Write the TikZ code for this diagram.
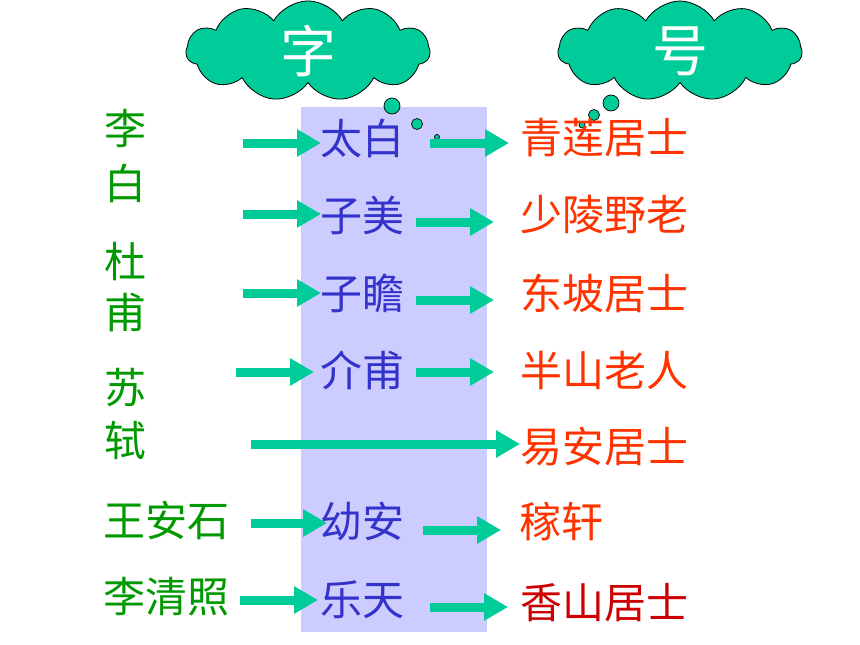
\documentclass[tikz,border=0pt]{standalone}
\usepackage{fontspec}
\newfontfamily\cjk{Noto Sans CJK SC}
\usetikzlibrary{shapes.symbols,arrows.meta}
\definecolor{cloudgreen}{RGB}{0,204,153}
\definecolor{namegreen}{RGB}{0,153,0}
\definecolor{zicolor}{RGB}{51,51,204}
\definecolor{haored}{RGB}{255,51,0}
\definecolor{darkred}{RGB}{204,0,0}
\definecolor{bandblue}{RGB}{204,204,255}
\tikzset{
  thought/.style={cloud, cloud puffs=11, cloud puff arc=120, aspect=2.5, draw=black, line width=0.8pt, fill=cloudgreen, inner sep=0pt, minimum width=244pt, minimum height=100pt, text=white, font=\cjk\fontsize{56pt}{56pt}\selectfont},
  bubble/.style={circle, draw=black, line width=0.7pt, fill=cloudgreen, inner sep=0pt},
  person/.style={text=namegreen, font=\cjk\fontsize{42pt}{42pt}\selectfont, inner sep=0pt},
  zi/.style={text=zicolor, font=\cjk\fontsize{42pt}{42pt}\selectfont, inner sep=0pt},
  hao/.style={text=haored, font=\cjk\fontsize{42pt}{42pt}\selectfont, inner sep=0pt},
  link/.style={draw=cloudgreen, line width=9pt, -{Triangle[length=24pt,width=26pt,fill=cloudgreen]}},
}
\begin{document}
\begin{tikzpicture}[x=1pt,y=-1pt]
\useasboundingbox (0,0) rectangle (860,645);
% band
\fill[bandblue] (301,107) rectangle (487,632);
% clouds
\node[thought] (cz) at (308,51) {字};
\node[thought] (ch) at (680,51) {号};
\node[bubble, minimum size=16pt] (b1) at (392,106) {};
\node[bubble, minimum size=11pt] (b2) at (417,124) {};
\node[bubble, minimum size=5pt] (b3) at (437,137) {};
\node[bubble, minimum size=16pt] (b4) at (611,103) {};
\node[bubble, minimum size=11pt] (b5) at (594,115) {};
\node[bubble, minimum size=6pt] (b6) at (582,125) {};
% people
\node[person] (p1) at (125,128) {李};
\node[person] (p2) at (125,183) {白};
\node[person] (p3) at (125,262) {杜};
\node[person] (p4) at (125,312) {甫};
\node[person] (p5) at (125,388) {苏};
\node[person] (p6) at (125,440) {轼};
\node[person] (p7) at (166,520) {王安石};
\node[person] (p8) at (166,597) {李清照};
% zi
\node[zi] (z1) at (362,138) {太白};
\node[zi] (z2) at (362,215) {子美};
\node[zi] (z3) at (362,293) {子瞻};
\node[zi] (z4) at (362,370) {介甫};
\node[zi] (z6) at (362,522) {幼安};
\node[zi] (z7) at (362,600) {乐天};
% hao
\node[hao] (h1) at (604,138) {青莲居士};
\node[hao] (h2) at (604,215) {少陵野老};
\node[hao] (h3) at (604,293) {东坡居士};
\node[hao] (h4) at (604,370) {半山老人};
\node[hao] (h5) at (604,447) {易安居士};
\node[hao, anchor=west] (h6) at (519,522) {稼轩};
\node[hao, text=darkred] (h7) at (604,603) {香山居士};
% arrow anchor points
\coordinate (l1s) at (243,143); \coordinate (l1e) at (321,143);
\coordinate (l2s) at (243,214); \coordinate (l2e) at (321,214);
\coordinate (l3s) at (243,293); \coordinate (l3e) at (321,293);
\coordinate (l4s) at (236,372); \coordinate (l4e) at (314,372);
\coordinate (l5s) at (251,444); \coordinate (l5e) at (520,444);
\coordinate (l6s) at (251,523); \coordinate (l6e) at (327,523);
\coordinate (l7s) at (240,600); \coordinate (l7e) at (318,600);
\coordinate (r1s) at (430,143); \coordinate (r1e) at (509,143);
\coordinate (r2s) at (416,222); \coordinate (r2e) at (494,222);
\coordinate (r3s) at (416,300); \coordinate (r3e) at (494,300);
\coordinate (r4s) at (416,372); \coordinate (r4e) at (494,372);
\coordinate (r6s) at (423,530); \coordinate (r6e) at (501,530);
\coordinate (r7s) at (430,607); \coordinate (r7e) at (508,607);
\foreach \a in {l1,l2,l3,l4,l5,l6,l7,r1,r2,r3,r4,r6,r7}{
  \draw[link] (\a s) -- (\a e);
}
\end{tikzpicture}
\end{document}
